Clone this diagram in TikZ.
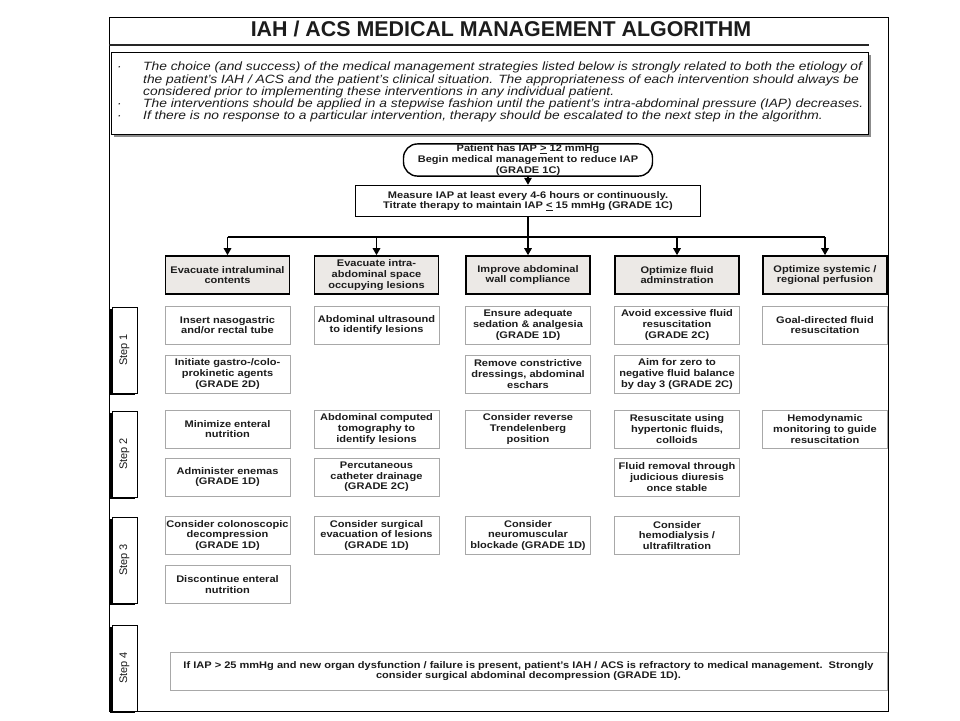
\documentclass[tikz,border=0pt]{standalone}
\usepackage{fontspec}
\setmainfont{Liberation Sans}[FakeStretch=1.15]
\newfontfamily\plainfont{Liberation Sans}
\usetikzlibrary{arrows.meta,shadows,calc}
\definecolor{hdr}{HTML}{ECE9E6}
\definecolor{ink}{HTML}{1C1C1C}
\definecolor{boxline}{HTML}{A8A8A8}
\begin{document}
\begin{tikzpicture}[x=1pt,y=-1pt,
  txt/.style={font=\fontsize{9.6}{10.6}\selectfont\bfseries, text=ink, align=center},
  cbox/.style={txt, draw=boxline, line width=0.8pt, fill=white, minimum width=125pt, minimum height=38pt, inner sep=1pt},
  hbox/.style={txt, draw=black, line width=1.6pt, fill=hdr, minimum width=124pt, minimum height=38pt, inner sep=1pt},
  stepbox/.style={draw=black, line width=1pt, fill=white, minimum width=25pt, minimum height=86pt, inner sep=0pt,
     font=\plainfont\fontsize{11}{12}\selectfont, text=ink,
     drop shadow={shadow xshift=-1.6pt, shadow yshift=-1.6pt, fill=black, opacity=1}},
  arr/.style={line width=1.4pt, -{Triangle[length=7pt,width=7.5pt]}},
  conn/.style={line width=1.4pt}
]
\useasboundingbox[fill=white] (0,0) rectangle (960,720);
% outer frame
\draw[line width=1pt] (109,17) rectangle (888,711);
% title
\node[font=\plainfont\fontsize{21.4}{24}\selectfont\bfseries, text=ink] (title) at (501,28.5) {IAH / ACS MEDICAL MANAGEMENT ALGORITHM};
\coordinate (ruleL) at (109,45);
\coordinate (ruleR) at (869,45);
\draw[line width=2.5pt, black!85] (ruleL) -- (ruleR);
% intro
\node[draw=black, line width=1.4pt, fill=white, minimum width=757pt, minimum height=82pt, anchor=north west,
  drop shadow={shadow xshift=2pt, shadow yshift=-2pt, fill=black!45, opacity=1}] (intro) at (111,52) {};
\node[anchor=north west, inner sep=0pt, align=left, text=ink, font=\fontsize{12}{10.9}\selectfont\itshape] (introtext) at (116,62) {%
\makebox[27pt][l]{\hspace{1pt}·}The choice (and success) of the medical management strategies listed below is strongly related to both the etiology of\\
\hspace*{27pt}the patient’s IAH / ACS and the patient’s clinical situation. The appropriateness of each intervention should always be\\
\hspace*{27pt}considered prior to implementing these interventions in any individual patient.\\
\makebox[27pt][l]{\hspace{1pt}·}The interventions should be applied in a stepwise fashion until the patient’s intra-abdominal pressure (IAP) decreases.\\
\makebox[27pt][l]{\hspace{1pt}·}If there is no response to a particular intervention, therapy should be escalated to the next step in the algorithm.};
% top boxes
\node[txt, draw=black, line width=1.4pt, rounded corners=14pt, minimum width=249pt, minimum height=32pt, inner sep=1pt] (start) at (528,160)
  {Patient has IAP \underline{>} 12 mmHg\\Begin medical management to reduce IAP\\(GRADE 1C)};
\node[txt, draw=black, line width=1.4pt, minimum width=345pt, minimum height=31pt, inner sep=1pt] (meas) at (528,201)
  {Measure IAP at least every 4-6 hours or continuously.\\Titrate therapy to maintain IAP \underline{<} 15 mmHg (GRADE 1C)};
\draw[arr] (start) -- (meas);
% headers
\node[hbox] (h1) at (227.5,275) {Evacuate intraluminal\\contents};
\node[hbox] (h2) at (376.5,275) {Evacuate intra-\\abdominal space\\occupying lesions};
\node[hbox] (h3) at (528,275) {Improve abdominal\\wall compliance};
\node[hbox] (h4) at (677,275) {Optimize fluid\\adminstration};
\node[hbox] (h5) at (825,275) {Optimize systemic /\\regional perfusion};
\coordinate (hub) at (528,237);
\draw[conn] (meas.south) -- (hub);
\draw[conn] (hub -| h1.north) -- (hub -| h5.north);
\foreach \h in {h1,h2,h3,h4,h5} \draw[arr] (hub -| \h.north) -- (\h.north);
% steps
\node[stepbox] (s1) at (124.5,350) {\rotatebox{90}{Step 1}};
\node[stepbox] (s2) at (124.5,454) {\rotatebox{90}{Step 2}};
\node[stepbox] (s3) at (124.5,560) {\rotatebox{90}{Step 3}};
\node[stepbox] (s4) at (124.5,668) {\rotatebox{90}{Step 4}};
% column 1
\node[cbox] (a1) at (227.5,325) {Insert nasogastric\\and/or rectal tube};
\node[cbox] (a2) at (227.5,374) {Initiate gastro-/colo-\\prokinetic agents\\(GRADE 2D)};
\node[cbox] (a3) at (227.5,429) {Minimize enteral\\nutrition};
\node[cbox] (a4) at (227.5,477) {Administer enemas\\(GRADE 1D)};
\node[cbox] (a5) at (227.5,535.5) {Consider colonoscopic\\decompression\\(GRADE 1D)};
\node[cbox] (a6) at (227.5,584.5) {Discontinue enteral\\nutrition};
% column 2
\node[cbox] (b1) at (376.5,325) {Abdominal ultrasound\\to identify lesions};
\node[cbox] (b3) at (376.5,429) {Abdominal computed\\tomography to\\identify lesions};
\node[cbox] (b4) at (376.5,477) {Percutaneous\\catheter drainage\\(GRADE 2C)};
\node[cbox] (b5) at (376.5,535.5) {Consider surgical\\evacuation of lesions\\(GRADE 1D)};
% column 3
\node[cbox] (c1) at (528,325) {Ensure adequate\\sedation \& analgesia\\(GRADE 1D)};
\node[cbox] (c2) at (528,374) {Remove constrictive\\dressings, abdominal\\eschars};
\node[cbox] (c3) at (528,429) {Consider reverse\\Trendelenberg\\position};
\node[cbox] (c5) at (528,535.5) {Consider\\neuromuscular\\blockade (GRADE 1D)};
% column 4
\node[cbox] (d1) at (677,325) {Avoid excessive fluid\\resuscitation\\(GRADE 2C)};
\node[cbox] (d2) at (677,374) {Aim for zero to\\negative fluid balance\\by day 3 (GRADE 2C)};
\node[cbox] (d3) at (677,429) {Resuscitate using\\hypertonic fluids,\\colloids};
\node[cbox] (d4) at (677,477) {Fluid removal through\\judicious diuresis\\once stable};
\node[cbox] (d5) at (677,535.5) {Consider\\hemodialysis /\\ultrafiltration};
% column 5
\node[cbox] (e1) at (825,325) {Goal-directed fluid\\resuscitation};
\node[cbox] (e3) at (825,429) {Hemodynamic\\monitoring to guide\\resuscitation};
% step 4
\node[cbox, minimum width=717pt] (f1) at (528.5,671) {If IAP > 25 mmHg and new organ dysfunction / failure is present, patient’s IAH / ACS is refractory to medical management.\ \ Strongly\\consider surgical abdominal decompression (GRADE 1D).};
\end{tikzpicture}
\end{document}
